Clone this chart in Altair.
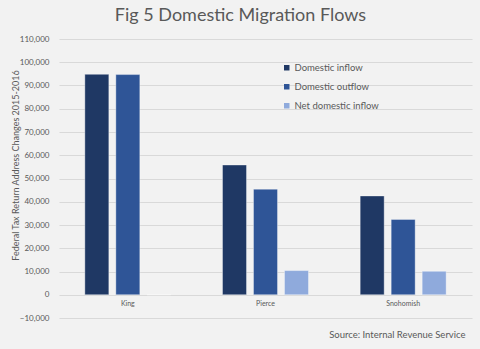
import altair as alt
import pandas as pd

counties = ["King", "Pierce", "Snohomish"]
series = ["Domestic inflow", "Domestic outflow", "Net domestic inflow"]
inflow = [94800, 55800, 42500]
outflow = [94700, 45400, 32400]
net = [0, 10400, 10100]
colors = ["#1f3864", "#2f5597", "#8faadc"]
y_ticks = list(range(-10000, 110001, 10000))

rows = []
for i, c in enumerate(counties):
    for s, vals in zip(series, [inflow, outflow, net]):
        rows.append({"County": c, "Series": s, "Value": vals[i]})
df = pd.DataFrame(rows)

grey = "#595959"
font = "Lato"

chart = alt.Chart(df).mark_bar(stroke="#ffffff", strokeWidth=0.6, strokeOpacity=0.6).encode(
    x=alt.X("County:N", sort=counties,
            scale=alt.Scale(paddingInner=0, paddingOuter=0),
            axis=alt.Axis(title="Source: Internal Revenue Service", labelAngle=0,
                          labelFontSize=7, labelColor=grey, labelFont=font,
                          labelPadding=-19, ticks=False, domain=False,
                          titleFont=font, titleFontSize=9.5, titleFontWeight="normal",
                          titleColor=grey, titleAnchor="end", titleAlign="right",
                          titleX=406, titleY=19, titleBaseline="alphabetic")),
    xOffset=alt.XOffset("Series:N", sort=series,
                        scale=alt.Scale(paddingInner=0.226, paddingOuter=0.834)),
    y=alt.Y("Value:Q",
            scale=alt.Scale(domain=[-10000, 110000], nice=False, zero=False),
            axis=alt.Axis(values=y_ticks, format=",d", title="Federal Tax Return Address Changes 2015-2016",
                          labelFontSize=8, labelColor=grey, labelFont=font, labelPadding=10,
                          ticks=False, domain=False, gridColor="#d9d9d9", gridWidth=1,
                          titleFont=font, titleFontSize=9, titleFontWeight="normal",
                          titleColor=grey, titleX=-44, titleY=126, titleAngle=270,
                          titleAlign="center", titleBaseline="middle")),
    color=alt.Color("Series:N", sort=series,
                    scale=alt.Scale(domain=series, range=colors),
                    legend=alt.Legend(title=None, orient="none", legendX=223, legendY=24,
                                      symbolType="square", symbolSize=30, symbolStrokeWidth=0,
                                      labelFont=font, labelFontSize=9.5, labelColor=grey,
                                      rowPadding=8, labelOffset=3)),
).properties(
    width=413, height=279,
    padding={"left": 59, "top": 39, "right": 8, "bottom": 31},
    autosize=alt.AutoSizeParams(type="none"),
    background="#f2f2f2",
    title=alt.TitleParams("Fig 5 Domestic Migration Flows", font=font, fontSize=18,
                          fontWeight="normal", color=grey, anchor="middle", dx=-25, offset=10),
).configure_view(stroke=None)

chart.save("out.html", embed_options={"renderer": "svg", "actions": False})
